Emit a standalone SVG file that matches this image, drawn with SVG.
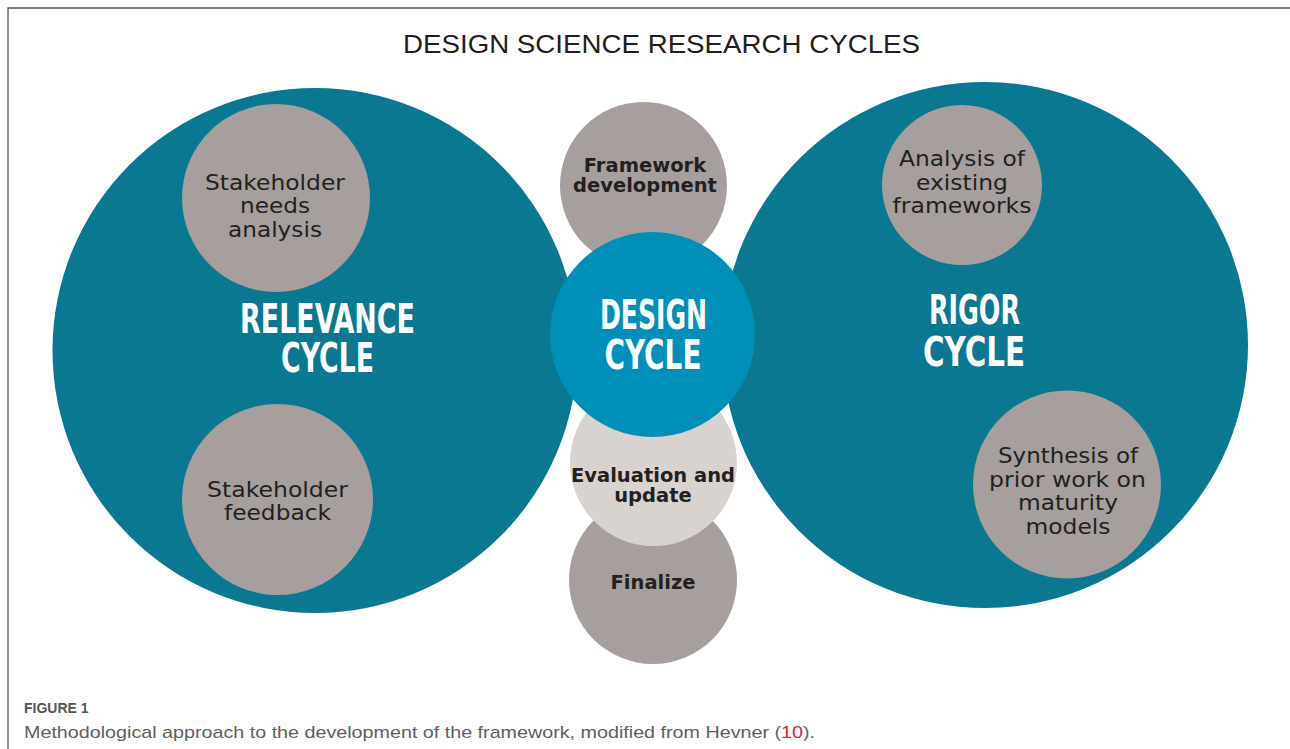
<svg xmlns="http://www.w3.org/2000/svg" width="1290" height="749" viewBox="0 0 1290 749">
<style>
.teal{fill:#0b7891}
.design{fill:#008fb8}
.gray{fill:#a69f9d}
.light{fill:#d9d3d0}
.big{font-family:"DejaVu Sans Condensed","DejaVu Sans",sans-serif;font-weight:bold;font-size:41px;fill:#ffffff;text-anchor:middle}
.reg{font-family:"DejaVu Sans",sans-serif;font-size:21px;fill:#231f20;text-anchor:middle}
.bold{font-family:"DejaVu Sans",sans-serif;font-weight:bold;font-size:19.5px;fill:#231f20;text-anchor:middle}
.title{font-family:"Liberation Sans",sans-serif;font-size:25px;fill:#231f20;text-anchor:middle}
.fig{font-family:"Liberation Sans",sans-serif;font-weight:bold;font-size:14px;fill:#555555}
.cap{font-family:"Liberation Sans",sans-serif;font-size:17px;fill:#5f5f5f}
</style>
<rect x="0" y="0" width="1290" height="749" fill="#ffffff"/>
<path d="M8 749 V8 H1290" fill="none" stroke="#555555" stroke-width="1.3"/>
<text class="title" x="661.5" y="53" textLength="517" lengthAdjust="spacingAndGlyphs">DESIGN SCIENCE RESEARCH CYCLES</text>

<g id="connectors"></g>

<g id="relevance-cycle">
<circle class="teal" cx="315" cy="350.5" r="262.5"/>
<text class="big" x="327.5" y="333" textLength="175" lengthAdjust="spacingAndGlyphs">RELEVANCE</text>
<text class="big" x="327.5" y="372" textLength="93" lengthAdjust="spacingAndGlyphs">CYCLE</text>
</g>
<g id="stakeholder-needs">
<circle class="gray" cx="276" cy="198" r="94"/>
<text class="reg" x="275" y="190" textLength="140" lengthAdjust="spacingAndGlyphs">Stakeholder</text>
<text class="reg" x="275" y="213" textLength="70" lengthAdjust="spacingAndGlyphs">needs</text>
<text class="reg" x="275" y="237" textLength="94" lengthAdjust="spacingAndGlyphs">analysis</text>
</g>
<g id="stakeholder-feedback">
<circle class="gray" cx="277.5" cy="499.5" r="95.5"/>
<text class="reg" x="277.5" y="497" textLength="141" lengthAdjust="spacingAndGlyphs">Stakeholder</text>
<text class="reg" x="277.5" y="520" textLength="107" lengthAdjust="spacingAndGlyphs">feedback</text>
</g>

<g id="rigor-cycle">
<circle class="teal" cx="985" cy="345" r="263"/>
<text class="big" x="974.5" y="323.5" textLength="91" lengthAdjust="spacingAndGlyphs">RIGOR</text>
<text class="big" x="974" y="366" textLength="102" lengthAdjust="spacingAndGlyphs">CYCLE</text>
</g>
<g id="analysis-frameworks">
<circle class="gray" cx="962" cy="185" r="80"/>
<text class="reg" x="962" y="166" textLength="126" lengthAdjust="spacingAndGlyphs">Analysis of</text>
<text class="reg" x="962" y="189.5" textLength="92" lengthAdjust="spacingAndGlyphs">existing</text>
<text class="reg" x="962" y="213" textLength="139" lengthAdjust="spacingAndGlyphs">frameworks</text>
</g>
<g id="synthesis-prior-work">
<circle class="gray" cx="1067" cy="484.5" r="94"/>
<text class="reg" x="1068" y="463" textLength="140" lengthAdjust="spacingAndGlyphs">Synthesis of</text>
<text class="reg" x="1067.5" y="487" textLength="157" lengthAdjust="spacingAndGlyphs">prior work on</text>
<text class="reg" x="1068" y="510" textLength="100" lengthAdjust="spacingAndGlyphs">maturity</text>
<text class="reg" x="1068" y="533.5" textLength="85" lengthAdjust="spacingAndGlyphs">models</text>
</g>

<g id="finalize">
<circle class="gray" cx="653" cy="580" r="84"/>
<text class="bold" x="653" y="589">Finalize</text>
</g>
<g id="evaluation-update">
<circle class="light" cx="653.5" cy="462.5" r="83.5"/>
<text class="bold" x="653" y="482">Evaluation and</text>
<text class="bold" x="653" y="502">update</text>
</g>
<g id="framework-development">
<circle class="gray" cx="643.5" cy="185.5" r="83.5"/>
<text class="bold" x="645" y="172">Framework</text>
<text class="bold" x="645" y="192">development</text>
</g>
<g id="design-cycle">
<circle class="design" cx="652.5" cy="334.5" r="102.5"/>
<text class="big" x="653.5" y="329" textLength="107" lengthAdjust="spacingAndGlyphs">DESIGN</text>
<text class="big" x="653" y="369" textLength="97" lengthAdjust="spacingAndGlyphs">CYCLE</text>
</g>

<text class="fig" x="24" y="713">FIGURE 1</text>
<text class="cap" x="24" y="738" textLength="791" lengthAdjust="spacingAndGlyphs">Methodological approach to the development of the framework, modified from Hevner (<tspan fill="#e3262b">10</tspan>).</text>
</svg>
